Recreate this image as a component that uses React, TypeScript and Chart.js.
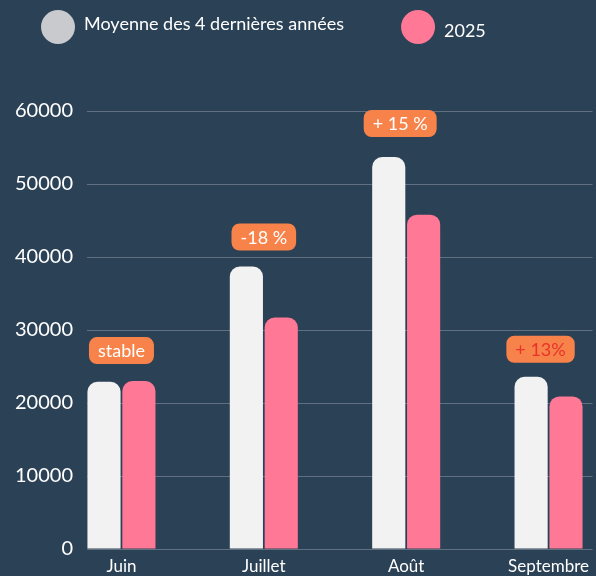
import React, { useEffect, useRef } from 'react';
import { Chart, registerables } from 'chart.js';

Chart.register(...registerables);

// ---- Data ----
const categories = ['Juin', 'Juillet', 'Août', 'Septembre'];
const seriesNames = ['Moyenne des 4 dernières années', '2025'];
const moyenneValues = [22900, 38700, 53700, 23600];
const values2025 = [23000, 31700, 45800, 20900];
const changeLabels = ['stable', '-18 %', '+ 15 %', '+ 13%'];
const changeTextColors = ['#ffffff', '#ffffff', '#ffffff', '#e8322b'];
const yMin = 0;
const yMax = 60000;
const yStep = 10000;

// ---- Style ----
const BG = '#2b4156';
const BAR_COLORS = ['#f2f2f2', '#ff7896'];
const LEGEND_COLORS = ['#c9cacd', '#ff7896'];
const BADGE_COLOR = '#f8834a';
const FONT = 'Lato, "Noto Sans", sans-serif';
const labelOffsets = [0, 0, -6, -8];
const badgeGaps = [17, 16, 20, 14];

function roundRectPath(ctx: CanvasRenderingContext2D, x: number, y: number, w: number, h: number, r: number) {
  ctx.beginPath();
  ctx.moveTo(x + r, y);
  ctx.lineTo(x + w - r, y);
  ctx.arcTo(x + w, y, x + w, y + r, r);
  ctx.lineTo(x + w, y + h - r);
  ctx.arcTo(x + w, y + h, x + w - r, y + h, r);
  ctx.lineTo(x + r, y + h);
  ctx.arcTo(x, y + h, x, y + h - r, r);
  ctx.lineTo(x, y + r);
  ctx.arcTo(x, y, x + r, y, r);
  ctx.closePath();
}

const legendPlugin = {
  id: 'customLegend',
  afterDraw(chart: any) {
    const ctx = chart.ctx as CanvasRenderingContext2D;
    ctx.save();
    ctx.font = `18px ${FONT}`;
    ctx.textBaseline = 'alphabetic';
    ctx.textAlign = 'left';
    const r = 17;
    const cy = 27;
    const textBaselines = [30, 37];
    let x = 41;
    seriesNames.forEach((name, i) => {
      ctx.fillStyle = LEGEND_COLORS[i];
      ctx.beginPath();
      ctx.arc(x + r, cy, r, 0, Math.PI * 2);
      ctx.fill();
      const tx = x + 2 * r + 9;
      ctx.fillStyle = '#ffffff';
      ctx.fillText(name, tx, textBaselines[i]);
      x = tx + ctx.measureText(name).width + 57;
    });
    ctx.restore();
  },
};

const badgePlugin = {
  id: 'badges',
  afterDatasetsDraw(chart: any) {
    const ctx = chart.ctx as CanvasRenderingContext2D;
    const xs = chart.scales.x;
    const ys = chart.scales.y;
    ctx.save();
    ctx.font = `18px ${FONT}`;
    ctx.textAlign = 'center';
    ctx.textBaseline = 'middle';
    categories.forEach((_, i) => {
      const cx = xs.getPixelForValue(i) + labelOffsets[i];
      const top = ys.getPixelForValue(Math.max(moyenneValues[i], values2025[i]));
      const txt = changeLabels[i];
      const w = ctx.measureText(txt).width + 18;
      const h = 27;
      const bottom = top - badgeGaps[i];
      ctx.fillStyle = BADGE_COLOR;
      roundRectPath(ctx, cx - w / 2, bottom - h, w, h, 8);
      ctx.fill();
      ctx.fillStyle = changeTextColors[i];
      ctx.fillText(txt, cx, bottom - h / 2 + 1);
    });
    ctx.restore();
  },
};

export default function App() {
  const ref = useRef<HTMLCanvasElement | null>(null);

  useEffect(() => {
    if (!ref.current) return;
    const chart = new Chart(ref.current, {
      type: 'bar',
      data: {
        datasets: [
          {
            label: seriesNames[0],
            data: moyenneValues.map((v, i) => ({ x: i, y: v })),
            backgroundColor: BAR_COLORS[0],
            borderRadius: 10,
            borderSkipped: 'start',
          },
          {
            label: seriesNames[1],
            data: values2025.map((v, i) => ({ x: i, y: v })),
            backgroundColor: BAR_COLORS[1],
            borderRadius: 10,
            borderSkipped: 'start',
          },
        ],
      },
      options: {
        animation: false,
        responsive: false,
        maintainAspectRatio: false,
        categoryPercentage: 0.49,
        barPercentage: 0.95,
        layout: { padding: { top: 111, right: 0, left: 0, bottom: 0 } },
        plugins: {
          legend: { display: false },
          tooltip: { enabled: false },
        },
        scales: {
          x: {
            type: 'linear',
            offset: false,
            min: -0.242,
            max: 3.309,
            grid: { display: false, drawTicks: false, offset: false },
            border: { display: false },
            ticks: {
              stepSize: 1,
              includeBounds: false,
              autoSkip: false,
              maxRotation: 0,
              padding: 7,
              color: '#ffffff',
              font: { family: FONT, size: 17 },
              callback: (v: any) => (Number.isInteger(v) ? categories[v] ?? '' : ''),
            },
            afterFit: (s: any) => {
              s.height = 27;
            },
          },
          y: {
            min: yMin,
            max: yMax,
            ticks: {
              stepSize: yStep,
              padding: 14,
              color: '#ffffff',
              font: { family: FONT, size: 20 },
              callback: (v: any) => String(v),
            },
            grid: { color: 'rgba(255,255,255,0.25)', drawTicks: false, lineWidth: 1 },
            border: { display: false },
            afterFit: (s: any) => {
              s.width = 87;
            },
          },
        },
      } as any,
      plugins: [legendPlugin, badgePlugin],
    });
    return () => chart.destroy();
  }, []);

  return (
    <div
      style={{
        position: 'fixed',
        left: 0,
        top: 0,
        width: 596,
        height: 576,
        background: BG,
        overflow: 'hidden',
      }}
    >
      <canvas ref={ref} width={596} height={576} style={{ display: 'block' }} />
    </div>
  );
}
